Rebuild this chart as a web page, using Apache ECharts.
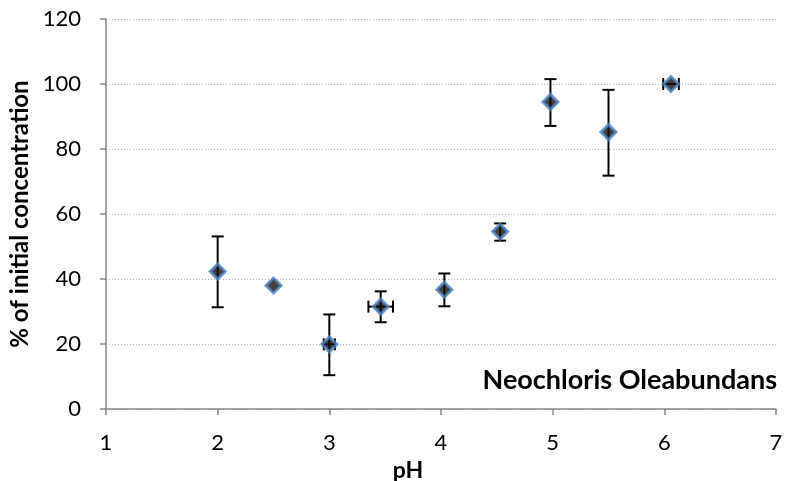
<!DOCTYPE html>
<html><head><meta charset="utf-8">
<script src="https://cdn.jsdelivr.net/npm/echarts@6/dist/echarts.min.js"></script>
<style>html,body{margin:0;padding:0;background:#fff}#c{width:803px;height:481px}</style>
</head><body><div id="c"></div>
<script>
const phValues   = [2.00, 2.50, 3.00, 3.46, 4.03, 4.53, 4.98, 5.50, 6.06];
const concValues = [42.3, 38.0, 19.9, 31.5, 36.7, 54.6, 94.5, 85.2, 100.0];
const yErrLow    = [31.3, 38.0, 10.4, 26.7, 31.6, 51.8, 87.1, 71.8, 100.0];
const yErrHigh   = [53.1, 38.0, 29.1, 36.2, 41.7, 57.1, 101.5, 98.2, 100.0];
const xErrLow    = [2.00, 2.50, 2.95, 3.35, 4.03, 4.53, 4.98, 5.50, 5.99];
const xErrHigh   = [2.00, 2.50, 3.05, 3.57, 4.03, 4.53, 4.98, 5.50, 6.13];
const xTicks = [1,2,3,4,5,6,7];
const yTicks = [0,20,40,60,80,100,120];
const chartTitle = 'Neochloris Oleabundans';

const points = phValues.map((x,i)=>[x, concValues[i]]);
const errData = phValues.map((x,i)=>[x, concValues[i], yErrLow[i], yErrHigh[i], xErrLow[i], xErrHigh[i]]);
const font = "Lato, 'Open Sans', sans-serif";

const chart = echarts.init(document.getElementById('c'));
chart.setOption({
  animation:false,
  backgroundColor:'#fff',
  grid:{left:106, right:27, top:19, bottom:72, containLabel:false, outerBoundsMode:'none'},
  title:{text:chartTitle, right:21, top:362, textStyle:{fontFamily:font, fontSize:27, fontWeight:'bold', color:'#000'}},
  xAxis:{type:'value', min:xTicks[0], max:xTicks[xTicks.length-1], interval:1,
    name:'pH', nameLocation:'middle', nameGap:45,
    nameTextStyle:{fontFamily:font, fontSize:23, fontWeight:'bold', color:'#000', padding:[0,66,0,0]},
    axisLine:{show:true, lineStyle:{color:'#868686', width:1.5}},
    axisTick:{show:true, length:6, lineStyle:{color:'#868686', width:1.5}},
    axisLabel:{fontFamily:font, fontSize:22, color:'#000', margin:23},
    splitLine:{show:false}},
  yAxis:{type:'value', min:yTicks[0], max:yTicks[yTicks.length-1], interval:20,
    name:'% of initial concentration', nameLocation:'middle', nameGap:70,
    nameTextStyle:{fontFamily:font, fontSize:24, fontWeight:'bold', color:'#000'},
    axisLine:{show:true, lineStyle:{color:'#868686', width:1.5}},
    axisTick:{show:true, length:6, lineStyle:{color:'#868686', width:1.5}},
    axisLabel:{fontFamily:font, fontSize:22, color:'#000', margin:25},
    splitLine:{show:true, lineStyle:{color:'#b0b0b0', type:[1,2], width:1}}},
  series:[
    {type:'custom', data:errData, z:3,
      renderItem:function(params, api){
        const c = api.coord([api.value(0), api.value(1)]);
        const lo = api.coord([api.value(0), api.value(2)]);
        const hi = api.coord([api.value(0), api.value(3)]);
        const xl = api.coord([api.value(4), api.value(1)]);
        const xh = api.coord([api.value(5), api.value(1)]);
        const st = {stroke:'#000', lineWidth:2};
        const cap = 6;
        const children = [];
        if (Math.abs(hi[1]-lo[1]) > 1) {
          children.push({type:'line', shape:{x1:c[0],y1:lo[1],x2:c[0],y2:hi[1]}, style:st});
          children.push({type:'line', shape:{x1:c[0]-cap,y1:lo[1],x2:c[0]+cap,y2:lo[1]}, style:st});
          children.push({type:'line', shape:{x1:c[0]-cap,y1:hi[1],x2:c[0]+cap,y2:hi[1]}, style:st});
        }
        if (Math.abs(xh[0]-xl[0]) > 1) {
          children.push({type:'line', shape:{x1:xl[0],y1:c[1],x2:xh[0],y2:c[1]}, style:st});
          children.push({type:'line', shape:{x1:xl[0],y1:c[1]-cap,x2:xl[0],y2:c[1]+cap}, style:st});
          children.push({type:'line', shape:{x1:xh[0],y1:c[1]-cap,x2:xh[0],y2:c[1]+cap}, style:st});
        }
        return {type:'group', children:children};
      }},
    {type:'scatter', data:points, z:4, symbol:'diamond', symbolSize:15,
      itemStyle:{color:'#111', borderColor:'#4F81BD', borderWidth:3}}
  ]
});
</script></body></html>
